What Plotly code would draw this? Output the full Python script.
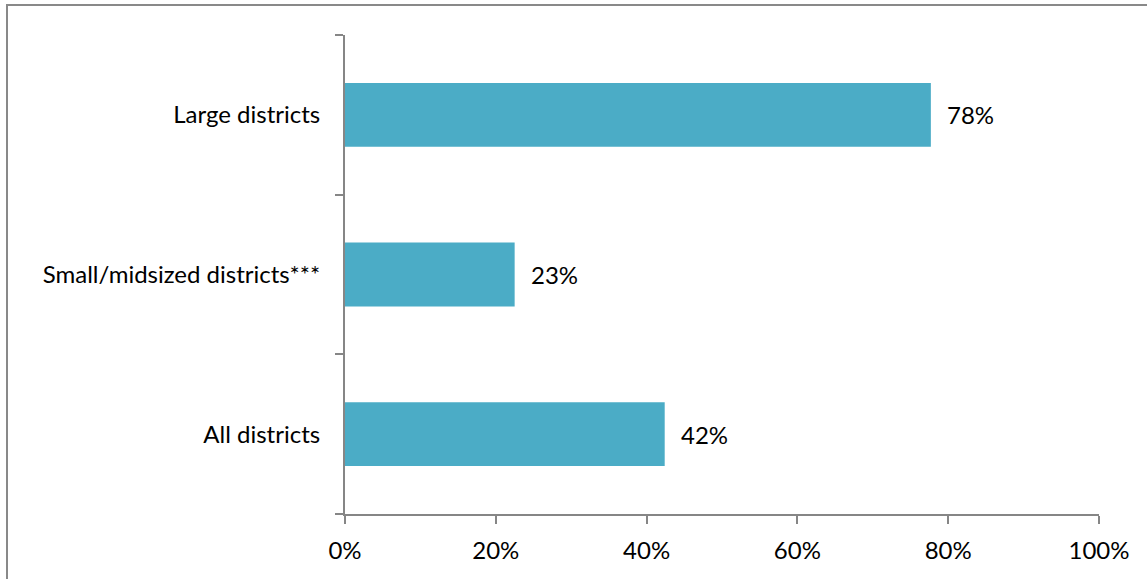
import plotly.graph_objects as go

categories = ["All districts", "Small/midsized districts***", "Large districts"]
values = [0.424, 0.225, 0.777]
labels = ["42%", "23%", "78%"]
x_ticks = [0, 0.2, 0.4, 0.6, 0.8, 1.0]
x_tick_labels = ["0%", "20%", "40%", "60%", "80%", "100%"]

W, H = 1147, 579
L, R, T, B = 345, 48, 35, 65
pw, ph = W - L - R, H - T - B

def px_x(p):
    return (p - L) / pw

def px_y(p):
    return (H - B - p) / ph

axis_color = "#868686"
font = dict(family="Lato, 'Open Sans', sans-serif", size=24, color="#000000")

fig = go.Figure()
fig.add_trace(go.Bar(
    y=categories, x=values, orientation="h",
    marker=dict(color="#4BACC6", line=dict(width=0)),
    width=0.4, hoverinfo="skip",
))

for c, v, t in zip(categories, values, labels):
    fig.add_annotation(x=v, y=c, text=t, showarrow=False, xanchor="left",
                       xshift=14, font=font)

fig.add_shape(type="rect", xref="paper", yref="paper",
              x0=px_x(7), x1=px_x(1160), y0=px_y(5), y1=px_y(590),
              line=dict(color="#898989", width=2), fillcolor="rgba(0,0,0,0)",
              layer="below")

fig.update_layout(
    template="none",
    width=W, height=H,
    margin=dict(l=L, r=R, t=T, b=B, pad=0),
    paper_bgcolor="white", plot_bgcolor="white",
    showlegend=False, font=font,
    xaxis=dict(range=[0, 1.0], tickvals=x_ticks, ticktext=x_tick_labels,
               showgrid=False, zeroline=False, showline=True, automargin=False,
               linecolor=axis_color, linewidth=2, ticks="outside",
               ticklen=8, tickwidth=2, tickcolor=axis_color,
               tickfont=font, fixedrange=True, ticklabelstandoff=6),
    yaxis=dict(type="category", categoryorder="array", categoryarray=categories,
               range=[-0.5, 2.5], showgrid=False, zeroline=False, automargin=False,
               showline=True, linecolor=axis_color, linewidth=2,
               ticks="outside", tickson="boundaries", ticklen=8, tickwidth=2,
               tickcolor=axis_color, tickfont=font, fixedrange=True,
               ticklabelstandoff=18),
)

fig.write_html("out.html", config={"displayModeBar": False},
               post_script="document.body.style.margin='0';")
